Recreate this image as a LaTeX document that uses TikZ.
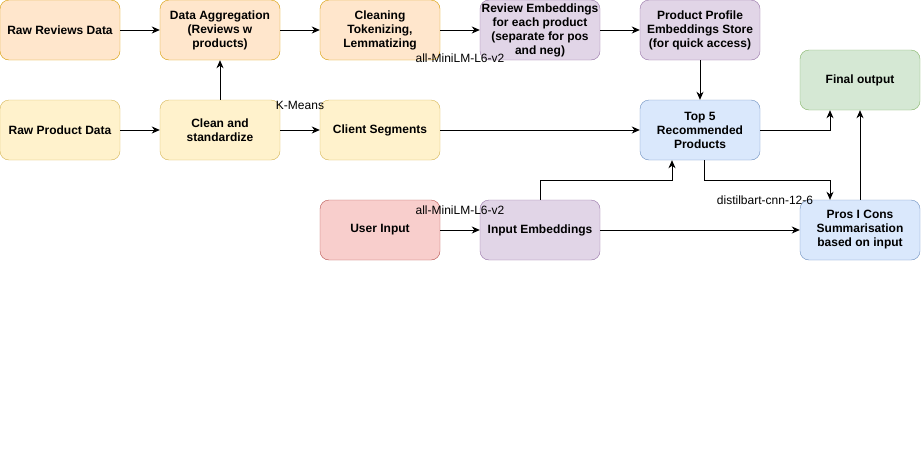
\documentclass[tikz,border=0pt]{standalone}
\usepackage{fontspec}
\setmainfont{Liberation Sans}
\usetikzlibrary{arrows.meta}

\definecolor{orgfill}{HTML}{FFE6CC}\definecolor{orgline}{HTML}{D79B00}
\definecolor{yelfill}{HTML}{FFF2CC}\definecolor{yelline}{HTML}{D6B656}
\definecolor{purfill}{HTML}{E1D5E7}\definecolor{purline}{HTML}{9673A6}
\definecolor{blufill}{HTML}{DAE8FC}\definecolor{bluline}{HTML}{6C8EBF}
\definecolor{grnfill}{HTML}{D5E8D4}\definecolor{grnline}{HTML}{82B366}
\definecolor{redfill}{HTML}{F8CECC}\definecolor{redline}{HTML}{B85450}

\begin{document}
\begin{tikzpicture}[
  x=1pt, y=-1pt,
  box/.style={rectangle, rounded corners=9pt, minimum width=120pt,
              minimum height=60pt, inner sep=0pt, align=center,
              font=\fontsize{12}{14}\selectfont\bfseries},
  orgbox/.style={box, draw=orgline, fill=orgfill},
  yelbox/.style={box, draw=yelline, fill=yelfill},
  purbox/.style={box, draw=purline, fill=purfill},
  blubox/.style={box, draw=bluline, fill=blufill},
  grnbox/.style={box, draw=grnline, fill=grnfill},
  redbox/.style={box, draw=redline, fill=redfill},
  flow/.style={-{Stealth[length=8pt,width=7pt,inset=2.5pt]}, line width=0.9pt},
  model/.style={font=\fontsize{12}{14}\selectfont, inner sep=0pt},
]
  \useasboundingbox (0,0) rectangle (921,461);

  % --- Row 1: reviews pipeline ---
  \node[orgbox] (rawrev)  at (60,30)  {Raw Reviews Data};
  \node[orgbox] (aggr)    at (220,30) {Data Aggregation\\(Reviews w\\products)};
  \node[orgbox] (clean1)  at (380,30) {Cleaning\\Tokenizing,\\Lemmatizing};
  \node[purbox] (revemb)  at (540,30) {Review Embeddings\\for each product\\(separate for pos\\and neg)};
  \node[purbox] (store)   at (700,30) {Product Profile\\Embeddings Store\\(for quick access)};

  % --- Row 2: products pipeline ---
  \node[yelbox] (rawprod) at (60,130)  {Raw Product Data};
  \node[yelbox] (clean2)  at (220,130) {Clean and\\standardize};
  \node[yelbox] (segs)    at (380,130) {Client Segments};
  \node[blubox] (top5)    at (700,130) {Top 5\\Recommended\\Products};
  \node[grnbox] (final)   at (860,80)  {Final output};

  % --- Row 3: user side ---
  \node[redbox] (user)    at (380,230) {User Input};
  \node[purbox] (inemb)   at (540,230) {Input Embeddings};
  \node[blubox] (summ)    at (860,230) {Pros I Cons\\Summarisation\\based on input};

  % Connectors
  \draw[flow] (rawrev) -- (aggr);
  \draw[flow] (aggr) -- (clean1);
  \draw[flow] (clean1) -- (revemb);
  \draw[flow] (revemb) -- (store);
  \draw[flow] (store) -- (top5);
  \draw[flow] (rawprod) -- (clean2);
  \draw[flow] (clean2) -- (aggr);
  \draw[flow] (clean2) -- (segs);
  \draw[flow] (segs) -- (top5);
  \draw[flow] (top5.east) -| ([xshift=-30pt]final.south);
  \draw[flow] (summ.north) -- (summ.north |- final.south);
  \draw[flow] (inemb.north) |- (672,180) -- ([xshift=-28pt]top5.south);
  \draw[flow] ([xshift=4pt]top5.south) |- (830,180) -- ([xshift=-30pt]summ.north);
  \draw[flow] (user) -- (inemb);
  \draw[flow] (inemb) -- (summ);

  % Model labels
  \node[model] (lblmini1) at (460,58)  {all-MiniLM-L6-v2};
  \node[model] (lblkmean) at (300,105) {K-Means};
  \node[model] (lblmini2) at (460,210) {all-MiniLM-L6-v2};
  \node[model] (lbldist)  at (765,200) {distilbart-cnn-12-6};
\end{tikzpicture}
\end{document}
